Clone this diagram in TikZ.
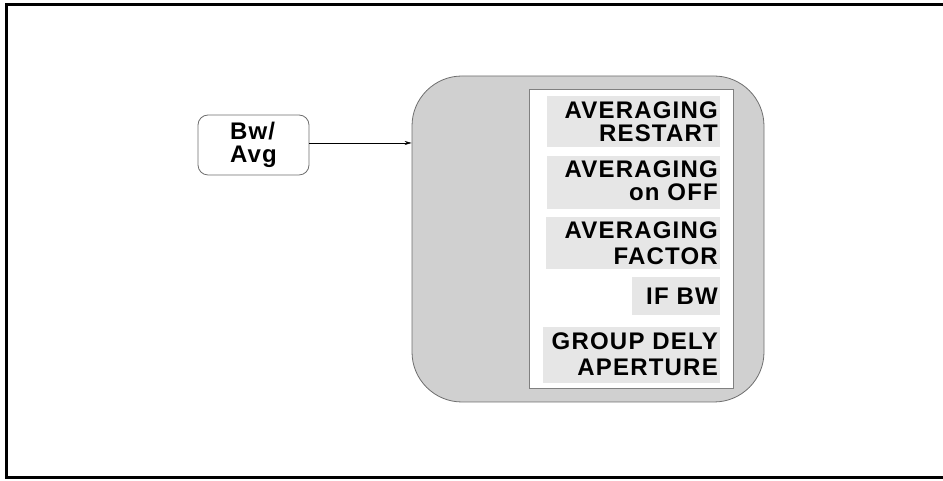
\documentclass[tikz,border=0pt]{standalone}
\usepackage{fontspec}
\setmainfont{Liberation Sans}
\newfontfamily\keyfont[LetterSpace=5]{Liberation Sans Bold}
\usetikzlibrary{arrows.meta}
\definecolor{stipdark}{RGB}{208,208,208}
\definecolor{stiplight}{RGB}{230,230,230}
\definecolor{edgegray}{RGB}{110,110,110}
\tikzset{
  keytext/.style={font=\keyfont\fontsize{24}{23}\selectfont, inner sep=0pt, anchor=base east},
  keybg/.style={fill=stiplight, draw=none, inner sep=0pt},
  hardkey/.style={draw=edgegray, line width=0.8pt, rounded corners=10pt, fill=white,
    minimum width=111pt, minimum height=60pt, align=left,
    font=\keyfont\fontsize{24}{23}\selectfont},
  menubox/.style={draw=edgegray, line width=0.8pt, fill=stipdark, rounded corners=50pt,
    minimum width=352pt, minimum height=326pt},
  panel/.style={draw=gray, line width=0.8pt, fill=white, minimum width=204pt, minimum height=299pt}
}
\begin{document}
\begin{tikzpicture}[x=1pt,y=1pt]
\useasboundingbox (0,0) rectangle (943,481);
% outer frame (right edge lies beyond the picture)
\draw[line width=2.4pt] (960,3.5) -- (6.5,3.5) -- (6.5,476.5) -- (960,476.5);

\node[hardkey] (bw) at (253.5,336) {Bw/\\Avg};

\node[menubox] (menu) at (588,242) {};
\node[panel] (panel) at (631,242.5) {};

\node[keybg, minimum width=173pt, minimum height=51pt] (bg1) at (633.5,359.5) {};
\node[keybg, minimum width=173pt, minimum height=53pt] (bg2) at (633.5,298.5) {};
\node[keybg, minimum width=174pt, minimum height=52pt] (bg3) at (633,238) {};
\node[keybg, minimum width=88pt, minimum height=38pt] (bg4) at (676,185) {};
\node[keybg, minimum width=177pt, minimum height=56pt] (bg5) at (631.5,126) {};

\node[keytext] (t1a) at (718,362) {AVERAGING};
\node[keytext] (t1b) at (718,339) {RESTART};
\node[keytext] (t2a) at (718,303) {AVERAGING};
\node[keytext] (t2b) at (718,280.5) {on OFF};
\node[keytext] (t3a) at (718,242) {AVERAGING};
\node[keytext] (t3b) at (718,216) {FACTOR};
\node[keytext] (t4a) at (718,176) {IF BW};
\node[keytext] (t5a) at (718,131) {GROUP DELY};
\node[keytext] (t5b) at (718,105) {APERTURE};

\draw[line width=0.6pt, -{Stealth[length=7pt,width=4pt]}] ([yshift=2pt]bw.east) -- ([yshift=2pt]bw.east -| menu.west);
\end{tikzpicture}
\end{document}
